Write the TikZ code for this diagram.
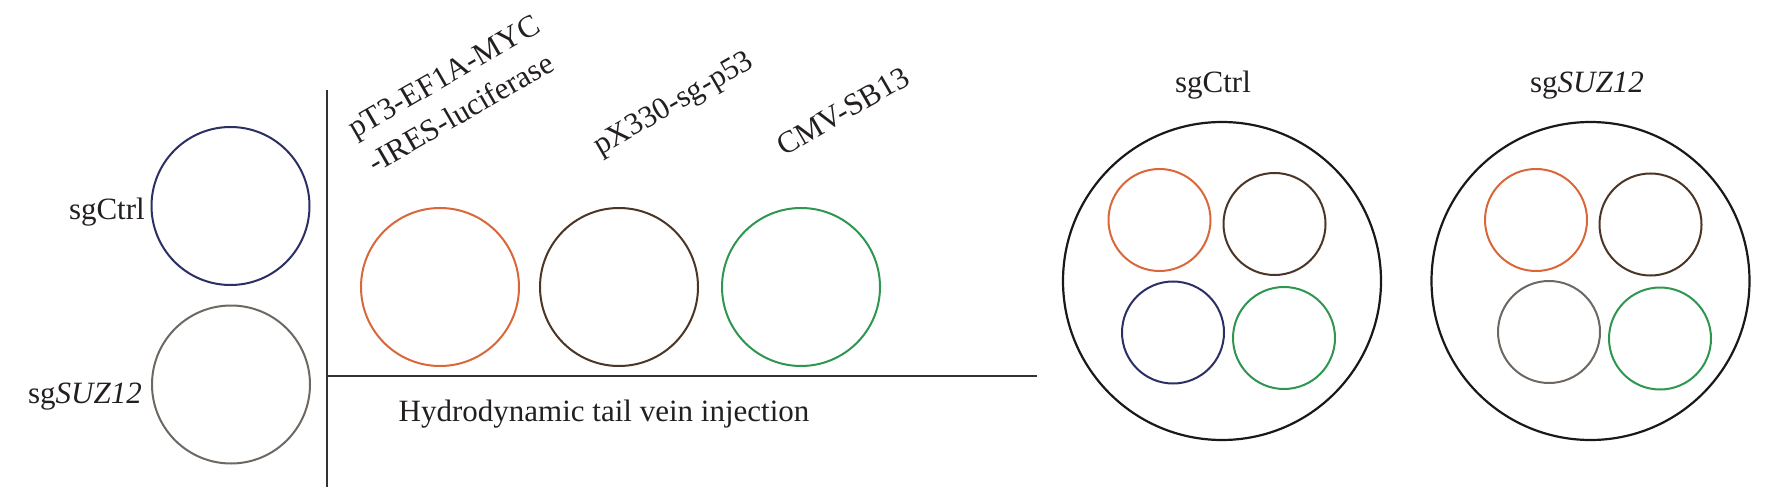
\documentclass[tikz,border=0pt]{standalone}
\usepackage{fontspec}
\setmainfont{Liberation Serif}
\definecolor{txt}{HTML}{231F20}
\definecolor{cnavy}{HTML}{2B2F63}
\definecolor{cgray}{HTML}{6E6863}
\definecolor{corange}{HTML}{D9673A}
\definecolor{cbrown}{HTML}{4A3526}
\definecolor{cgreen}{HTML}{2E9650}
\definecolor{cline}{HTML}{333333}
\tikzset{
  lbl/.style={text=txt, inner sep=0pt, font=\fontsize{31}{40}\selectfont},
  ring/.style={circle, draw=#1, line width=2pt, inner sep=0pt},
  bigring/.style={circle, draw=black!90, line width=2.2pt, inner sep=0pt, minimum size=318pt},
  axis/.style={draw=cline, line width=2pt},
}
\begin{document}
\begin{tikzpicture}[x=1pt, y=-1pt]
\useasboundingbox (0,0) rectangle (1772,497);
% left circles
\node[ring=cnavy, minimum size=158pt] (c1) at (230.5,206) {};
\node[ring=cgray, minimum size=158pt] (c2) at (231,384.5) {};
\node[lbl, anchor=base east] (l1) at (145,220) {sgCtrl};
\node[lbl, anchor=base east] (l2) at (142,403) {sg\textit{SUZ12}};
% axes
\coordinate (vtop) at (327,90);
\coordinate (vbot) at (327,487);
\coordinate (hleft) at (327,376);
\coordinate (hright) at (1037,376);
\draw[axis] (vtop) -- (vbot);
\draw[axis] (hleft) -- (hright);
% plasmid circles
\node[ring=corange, minimum size=158pt] (p1) at (440,287) {};
\node[ring=cbrown, minimum size=158pt] (p2) at (619,287) {};
\node[ring=cgreen, minimum size=158pt] (p3) at (801,287) {};
\node[lbl, rotate=30, anchor=north west, align=left] (t1) at (345,121) {pT3-EF1A-MYC\\-IRES-luciferase};
\node[lbl, rotate=30, anchor=base west] (t2) at (600,156) {pX330-sg-p53};
\node[lbl, rotate=30, anchor=base west] (t3) at (784,157) {CMV-SB13};
\node[lbl, anchor=base] (hdi) at (604,421) {Hydrodynamic tail vein injection};
% mice groups
\node[bigring] (m1) at (1222,281) {};
\node[ring=corange, minimum size=102pt] (m1a) at (1159.5,220) {};
\node[ring=cbrown, minimum size=102pt] (m1b) at (1274.5,224) {};
\node[ring=cnavy, minimum size=102pt] (m1c) at (1173,332.5) {};
\node[ring=cgreen, minimum size=102pt] (m1d) at (1284,338) {};
\node[lbl, anchor=base] (g1) at (1213,93) {sgCtrl};
\node[bigring] (m2) at (1590.5,281) {};
\node[ring=corange, minimum size=102pt] (m2a) at (1536,220) {};
\node[ring=cbrown, minimum size=102pt] (m2b) at (1650.5,224.5) {};
\node[ring=cgray, minimum size=102pt] (m2c) at (1549,332) {};
\node[ring=cgreen, minimum size=102pt] (m2d) at (1660,338.5) {};
\node[lbl, anchor=base] (g2) at (1587,93) {sg\textit{SUZ12}};
\end{tikzpicture}
\end{document}
